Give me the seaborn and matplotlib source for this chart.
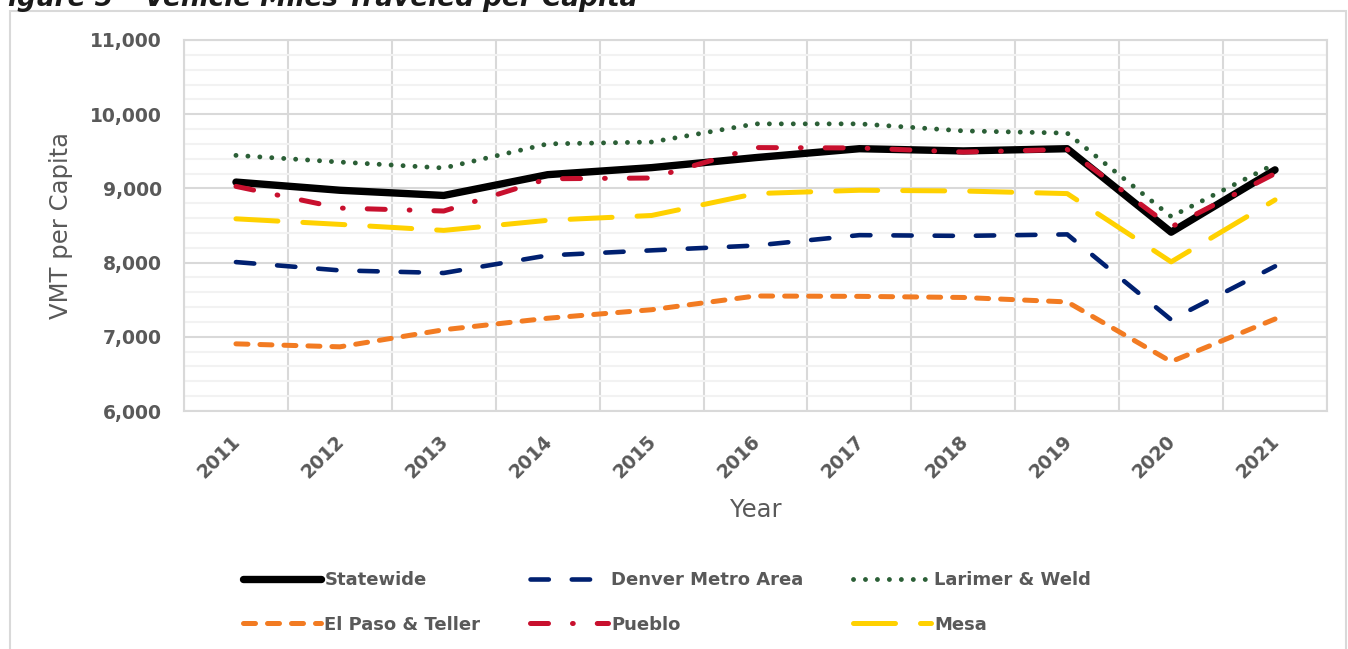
import matplotlib
matplotlib.use("Agg")
import matplotlib.pyplot as plt
import matplotlib.transforms as mtransforms
from matplotlib.patches import Rectangle
from matplotlib.ticker import MultipleLocator, FuncFormatter
import seaborn as sns
import pandas as pd

years = [2011, 2012, 2013, 2014, 2015, 2016, 2017, 2018, 2019, 2020, 2021]
statewide = [9085, 8975, 8905, 9185, 9280, 9415, 9535, 9505, 9535, 8410, 9250]
denver = [8007, 7895, 7860, 8097, 8165, 8230, 8370, 8360, 8380, 7230, 7950]
larimer = [9445, 9355, 9275, 9600, 9625, 9870, 9870, 9775, 9745, 8620, 9330]
elpaso = [6905, 6865, 7095, 7250, 7365, 7550, 7545, 7530, 7470, 6665, 7240]
pueblo = [9027, 8735, 8695, 9130, 9140, 9550, 9545, 9490, 9525, 8480, 9200]
mesa = [8590, 8515, 8434, 8570, 8635, 8930, 8975, 8965, 8930, 8010, 8845]

series_names = ["Statewide", "Denver Metro Area", "Larimer & Weld",
                "El Paso & Teller", "Pueblo", "Mesa"]
series_values = [statewide, denver, larimer, elpaso, pueblo, mesa]

styles = {
    "Statewide": dict(color="#000000", lw=5.3, ls="-"),
    "Denver Metro Area": dict(color="#002070", lw=3.3, ls=(0, (4.0, 5.0))),
    "Larimer & Weld": dict(color="#2B5F36", lw=3.5, ls=(0, (0.01, 2.45))),
    "El Paso & Teller": dict(color="#F27B22", lw=3.6, ls=(0, (2.4, 2.4))),
    "Pueblo": dict(color="#C8102E", lw=3.6, ls=(0, (3.6, 4.8, 0.15, 4.8))),
    "Mesa": dict(color="#FFD100", lw=3.6, ls=(0, (8.4, 5.0))),
}

GRAY = "#595959"
plt.rcParams["font.family"] = ["DejaVu Sans"]

fig = plt.figure(figsize=(13.48, 6.49), dpi=100)
ax = fig.add_axes([184 / 1348, 1 - 411 / 649, (1327 - 184) / 1348, (411 - 40) / 649])

for name, vals in zip(series_names, series_values):
    df = pd.DataFrame({"Year": years, "VMT": vals})
    st = styles[name]
    sns.lineplot(data=df, x="Year", y="VMT", ax=ax, color=st["color"],
                 linewidth=st["lw"], linestyle=st["ls"], label=name,
                 dash_capstyle="round", solid_capstyle="round",
                 solid_joinstyle="round", dash_joinstyle="round")

if ax.get_legend() is not None:
    ax.get_legend().remove()

ax.set_xlim(2010.5, 2021.5)
ax.set_ylim(6000, 11000)
ax.yaxis.set_major_locator(MultipleLocator(1000))
ax.yaxis.set_minor_locator(MultipleLocator(200))
ax.yaxis.set_major_formatter(FuncFormatter(lambda v, p: f"{int(v):,}"))
ax.set_xticks(years)
ax.set_xticklabels([str(y) for y in years])
ax.set_xticks([y + 0.5 for y in [2010] + years], minor=True)

ax.grid(which="major", axis="y", color="#D9D9D9", lw=1.5)
ax.grid(which="minor", axis="y", color="#F2F2F2", lw=1.5)
ax.grid(which="minor", axis="x", color="#D9D9D9", lw=1.5)
ax.grid(which="major", axis="x", visible=False)
ax.set_axisbelow(True)
for s in ax.spines.values():
    s.set_color("#D9D9D9")
    s.set_linewidth(1.5)

ax.tick_params(axis="both", which="both", length=0)
ax.tick_params(axis="y", pad=16, labelsize=13.5, labelcolor=GRAY)
ax.tick_params(axis="x", pad=15, labelsize=13.5, labelcolor=GRAY)
for lab in ax.get_yticklabels():
    lab.set_fontweight("bold")
offset = mtransforms.ScaledTranslation(-5 / 100, 0, fig.dpi_scale_trans)
for lab in ax.get_xticklabels():
    lab.set_fontweight("bold")
    lab.set_rotation(45)
    lab.set_ha("right")
    lab.set_va("top")
    lab.set_rotation_mode("anchor")
    lab.set_transform(lab.get_transform() + offset)

ax.set_xlabel("Year", fontsize=17.5, color=GRAY, va="center")
ax.xaxis.set_label_coords(0.5, (411 - 510) / 371)
ax.set_ylabel("VMT per Capita", fontsize=17.5, color=GRAY, va="center")
ax.yaxis.set_label_coords((61 - 184) / 1143, 0.5)

# legend: row order Statewide, Denver, Larimer / El Paso, Pueblo, Mesa
handles, labels = ax.get_legend_handles_labels()
hmap = dict(zip(labels, handles))
order = ["Statewide", "El Paso & Teller", "Denver Metro Area", "Pueblo",
         "Larimer & Weld", "Mesa"]
leg = fig.legend([hmap[o] for o in order], order, ncol=3,
                 loc="upper left", bbox_to_anchor=(243 / 1348, 1 - 571 / 649),
                 frameon=False, handlelength=4.3, handletextpad=0.2,
                 columnspacing=2.75, labelspacing=1.47, borderpad=0,
                 borderaxespad=0, prop={"weight": "bold", "size": 13})
for t in leg.get_texts():
    t.set_color(GRAY)

# chart border
fig.patches.append(Rectangle((10 / 1348, -0.01), (1346 - 10) / 1348, 1.01 - 11 / 649,
                             transform=fig.transFigure, fill=False,
                             edgecolor="#D9D9D9", lw=1.5))

# partially visible title above the chart (cut off at the top, as in the reference)
fig.text(-10 / 1348, 1 - 6 / 649, "Figure 5 \u2013 Vehicle Miles Traveled per Capita",
         fontsize=19, fontweight="bold", fontstyle="italic", color="#1a1a1a",
         ha="left", va="baseline")

fig.savefig("out.png", dpi=100)
